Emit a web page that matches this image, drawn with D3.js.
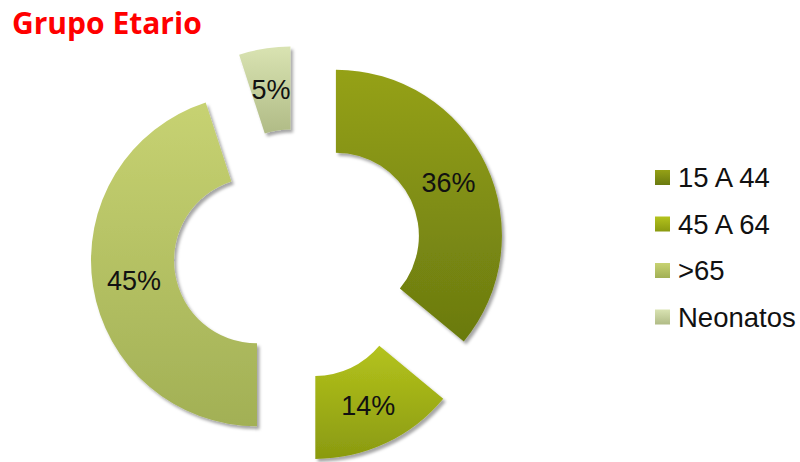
<!DOCTYPE html>
<html>
<head>
<meta charset="utf-8">
<script src="https://cdn.jsdelivr.net/npm/d3@7"></script>
<style>
  html, body { margin: 0; padding: 0; background: #fff; }
  svg { display: block; }
</style>
</head>
<body>
<svg id="chart" width="800" height="462"></svg>
<script>
// Age-group distribution
const categories = ["15 A 44", "45 A 64", ">65", "Neonatos"];
const values = [36, 14, 45, 5];
const labels = ["36%", "14%", "45%", "5%"];

// Fill gradients per group (top, bottom)
const gradTop = ["#95a116", "#b4c31d", "#c7d272", "#d9e3b2"];
const gradBottom = ["#6a7a10", "#8a9a10", "#a2b055", "#b0bb86"];

// Layout
const width = 800, height = 462;
const center = { x: 297, y: 254 };
const outerR = 166, innerR = 83;
const explode = [43, 43, 40.5, 42];

const svg = d3.select("#chart");
const defs = svg.append("defs");

categories.forEach((c, i) => {
  const g = defs.append("linearGradient")
    .attr("id", "grad" + i)
    .attr("x1", 0).attr("y1", 0).attr("x2", 0).attr("y2", 1);
  g.append("stop").attr("offset", "0%").attr("stop-color", gradTop[i]);
  g.append("stop").attr("offset", "100%").attr("stop-color", gradBottom[i]);
});

const shadow = defs.append("filter")
  .attr("id", "shadow")
  .attr("x", "-20%").attr("y", "-20%")
  .attr("width", "140%").attr("height", "140%");
shadow.append("feDropShadow")
  .attr("dx", 2.5).attr("dy", 3)
  .attr("stdDeviation", 1.8)
  .attr("flood-color", "#000")
  .attr("flood-opacity", 0.35);

// Title
svg.append("text")
  .attr("x", 12).attr("y", 34)
  .attr("font-family", "'Open Sans', sans-serif")
  .attr("font-weight", 700)
  .attr("font-size", 30)
  .attr("fill", "#ff0000")
  .text("Grupo Etario");

// Exploded doughnut
const pie = d3.pie().sort(null).value(d => d)(values);
const arc = d3.arc().innerRadius(innerR).outerRadius(outerR);

const slices = svg.append("g")
  .attr("transform", `translate(${center.x},${center.y})`)
  .selectAll("g.slice")
  .data(pie)
  .join("g")
  .attr("class", "slice")
  .attr("transform", (d, i) => {
    const a = (d.startAngle + d.endAngle) / 2;
    return `translate(${Math.sin(a) * explode[i]},${-Math.cos(a) * explode[i]})`;
  });

slices.append("path")
  .attr("d", arc)
  .attr("fill", (d, i) => `url(#grad${i})`)
  .attr("filter", "url(#shadow)");

slices.append("text")
  .attr("transform", d => `translate(${arc.centroid(d)})`)
  .attr("text-anchor", "middle")
  .attr("dy", "0.36em")
  .attr("font-family", "'Liberation Sans', Arial, sans-serif")
  .attr("font-size", 27)
  .attr("fill", "#111")
  .text((d, i) => labels[i]);

// Legend
const legendY = d3.scalePoint()
  .domain(categories)
  .range([177.5, 317]);

const legend = svg.append("g")
  .selectAll("g.item")
  .data(categories)
  .join("g")
  .attr("class", "item")
  .attr("transform", d => `translate(655,${legendY(d)})`);

legend.append("rect")
  .attr("x", 0).attr("y", -7.5)
  .attr("width", 15).attr("height", 15)
  .attr("fill", (d, i) => `url(#grad${i})`);

legend.append("text")
  .attr("x", 23)
  .attr("dy", "0.36em")
  .attr("font-family", "'Liberation Sans', Arial, sans-serif")
  .attr("font-size", 27.5)
  .attr("fill", "#111")
  .text(d => d);
</script>
</body>
</html>
